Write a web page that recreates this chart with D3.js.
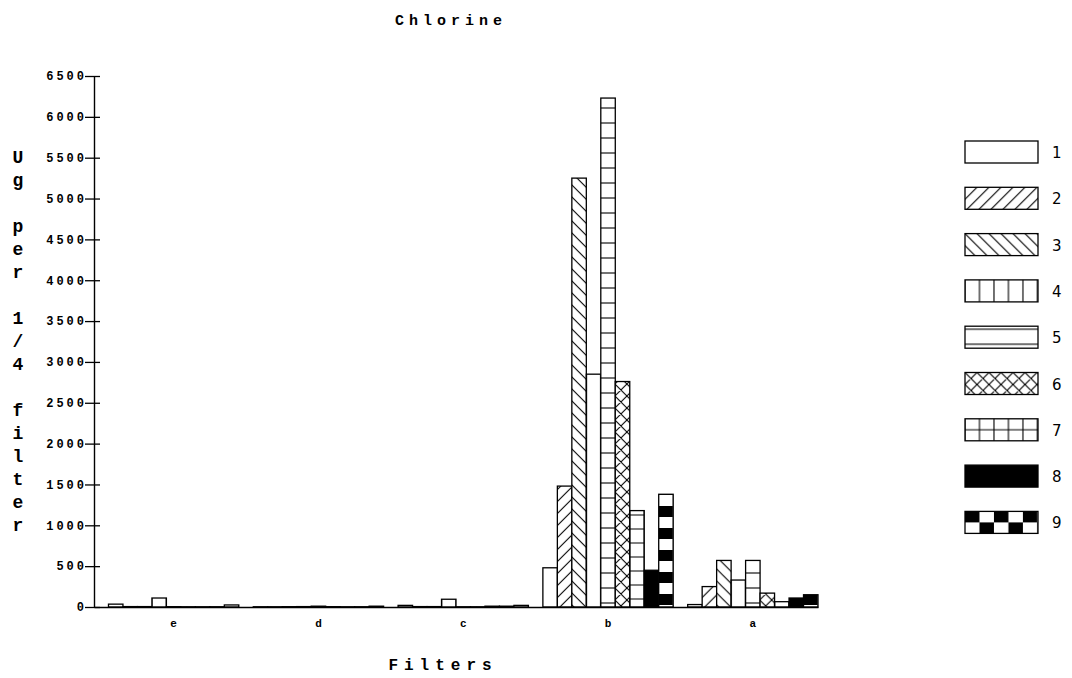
<!DOCTYPE html>
<html>
<head>
<meta charset="utf-8">
<script src="https://cdn.jsdelivr.net/npm/d3@7"></script>
<style>
  body { margin: 0; background: #fff; }
  svg { display: block; }
  .mono { font-family: "Liberation Mono", "DejaVu Sans Mono", monospace; }
</style>
</head>
<body>
<svg id="chart" width="1072" height="678"></svg>
<script>
// filter groups in drawing order, and the 9 series
var groups = ["e", "d", "c", "b", "a"];
var series = ["1", "2", "3", "4", "5", "6", "7", "8", "9"];

// Ug per 1/4 filter, one array per filter group (series 1..9)
var valsE = [35, 5, 5, 110, 4, 3, 3, 3, 25];
var valsD = [3, 3, 4, 5, 10, 4, 3, 3, 10];
var valsC = [20, 5, 5, 95, 3, 3, 10, 10, 20];
var valsB = [480, 1480, 5250, 2850, 6230, 2760, 1180, 450, 1380];
var valsA = [30, 250, 570, 330, 570, 170, 65, 110, 150];

var yTicks = [0, 500, 1000, 1500, 2000, 2500, 3000, 3500, 4000, 4500, 5000, 5500, 6000, 6500];
var yLabel = "Ug per 1/4 filter";

var table = groups.map(function (g, i) {
    return { group: g, values: [valsE, valsD, valsC, valsB, valsA][i] };
});

var svg = d3.select("#chart");
var plotLeft = 94, plotRight = 818, plotTop = 76, plotBottom = 607;

// groups: gap of one bar width before each group, none after the last
var x0 = d3.scaleBand()
    .domain(groups)
    .range([plotLeft, plotRight])
    .paddingInner(0.1)
    .paddingOuter(0.05)
    .align(1);
var x1 = d3.scaleBand()
    .domain(series)
    .range([0, x0.bandwidth()]);
var y = d3.scaleLinear()
    .domain([0, 6500])
    .range([plotBottom, plotTop]);

var bw = x1.step();

// hatch patterns; userSpaceOnUse is local to each group / legend item,
// whose origin sits on a bar edge, so tile width bw keeps lines on borders
var defs = svg.append("defs");
function pattern(id, w, h, ox, oy) {
    var p = defs.append("pattern")
        .attr("id", id)
        .attr("patternUnits", "userSpaceOnUse")
        .attr("x", ox).attr("y", oy)
        .attr("width", w).attr("height", h);
    p.append("rect").attr("width", w).attr("height", h).attr("fill", "#fff");
    return p;
}
function lines(p, d) {
    p.append("path").attr("d", d)
        .attr("stroke", "#000")
        .attr("stroke-width", 1.1)
        .attr("fill", "none");
}

lines(pattern("pat2", 12, 12, 0, 0), "M0,12L12,0M-3,3L3,-3M9,15L15,9");
lines(pattern("pat3", 12, 12, 0, 0), "M0,0L12,12M-3,9L3,15M9,-3L15,3");
lines(pattern("pat4", bw, 20, 0, 0), "M0,0V20M" + bw + ",0V20");
lines(pattern("pat5", 20, 15, 0, -4), "M0,7H20");
lines(pattern("pat6", 12, 12, 0, 0), "M0,0L12,12M-3,9L3,15M9,-3L15,3M0,12L12,0M-3,3L3,-3M9,15L15,9");
lines(pattern("pat7", bw, 14, 0, 4), "M0,0V14M" + bw + ",0V14M0,7H" + bw);
var p9 = pattern("pat9", bw * 2, 22, 0, 0);
p9.append("rect").attr("x", 0).attr("y", 0).attr("width", bw).attr("height", 11).attr("fill", "#000");
p9.append("rect").attr("x", bw).attr("y", 11).attr("width", bw).attr("height", 11).attr("fill", "#000");

function fillFor(i) {
    if (i === 0) return "#fff";
    if (i === 7) return "#000";
    return "url(#pat" + (i + 1) + ")";
}

// bars
svg.append("g")
    .selectAll("g")
    .data(table)
    .enter().append("g")
    .attr("transform", function (d) { return "translate(" + x0(d.group) + ",0)"; })
    .selectAll("rect")
    .data(function (d) { return d.values.map(function (v, i) { return { s: series[i], i: i, v: v }; }); })
    .enter().append("rect")
    .attr("x", function (d) { return x1(d.s); })
    .attr("y", function (d) { return y(d.v); })
    .attr("width", x1.bandwidth())
    .attr("height", function (d) { return plotBottom - y(d.v); })
    .attr("fill", function (d) { return fillFor(d.i); })
    .attr("stroke", "#000")
    .attr("stroke-width", 1.3);

// Y axis with ticks crossing the line
var yAxis = d3.axisLeft(y).tickValues(yTicks).tickFormat(d3.format("d")).tickSizeOuter(0);
var gy = svg.append("g")
    .attr("transform", "translate(" + plotLeft + ",0)")
    .call(yAxis);
gy.select(".domain").attr("stroke-width", 1.4);
gy.selectAll(".tick line").attr("x1", -9).attr("x2", 6).attr("stroke-width", 1.3);
gy.selectAll(".tick text")
    .attr("x", -7)
    .attr("class", "mono")
    .style("font-size", "12px")
    .style("font-weight", "bold")
    .style("letter-spacing", "3px")
    .attr("fill", "#000");

// X axis
var xAxis = d3.axisBottom(x0).tickSize(0).tickPadding(12);
var gx = svg.append("g")
    .attr("transform", "translate(0," + plotBottom + ")")
    .call(xAxis);
gx.select(".domain").attr("stroke-width", 1.4);
gx.selectAll(".tick text")
    .attr("class", "mono")
    .style("font-size", "11px")
    .style("font-weight", "bold")
    .attr("fill", "#000");

// title and axis titles
svg.append("text")
    .attr("class", "mono")
    .attr("x", 451).attr("y", 25)
    .attr("text-anchor", "middle")
    .style("font-size", "15px")
    .style("font-weight", "bold")
    .style("letter-spacing", "5px")
    .text("Chlorine");

svg.append("text")
    .attr("class", "mono")
    .attr("x", 443).attr("y", 670)
    .attr("text-anchor", "middle")
    .style("font-size", "16px")
    .style("font-weight", "bold")
    .style("letter-spacing", "6px")
    .text("Filters");

svg.append("g")
    .selectAll("text")
    .data(yLabel.split(""))
    .enter().append("text")
    .attr("class", "mono")
    .attr("x", 18)
    .attr("y", function (d, i) { return 157 + i * 23; })
    .attr("dy", "0.35em")
    .attr("text-anchor", "middle")
    .style("font-size", "18px")
    .style("font-weight", "bold")
    .text(function (d) { return d; });

// legend
var legend = svg.append("g")
    .selectAll("g")
    .data(series)
    .enter().append("g")
    .attr("transform", function (d, i) { return "translate(965," + (141 + i * 46.3) + ")"; });
legend.append("rect")
    .attr("width", 73).attr("height", 22)
    .attr("fill", function (d, i) { return fillFor(i); })
    .attr("stroke", "#000")
    .attr("stroke-width", 1.3);
legend.append("text")
    .attr("x", 87).attr("y", 17)
    .style("font-family", "DejaVu Sans, sans-serif")
    .style("font-size", "15px")
    .text(function (d) { return d; });
</script>
</body>
</html>
